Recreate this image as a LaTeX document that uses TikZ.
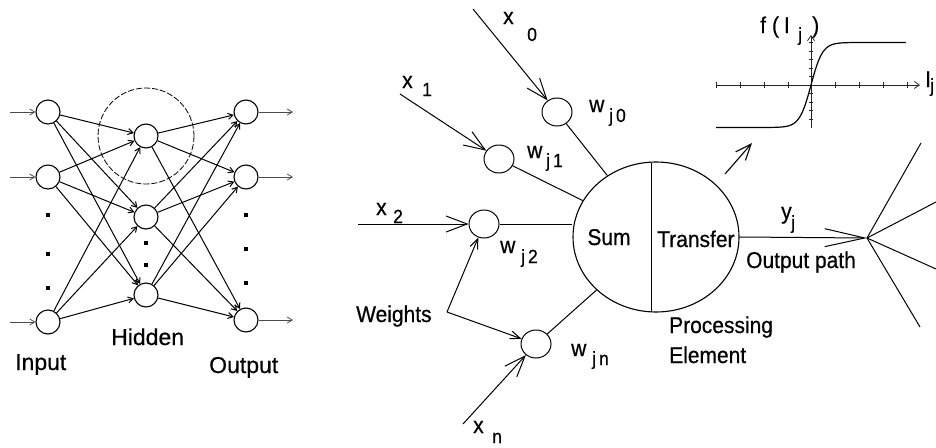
\documentclass[tikz,border=0pt]{standalone}
\usepackage{fontspec}
\setmainfont{Liberation Sans}
\newfontfamily\tallsans[FakeStretch=0.92,FakeBold=0.6]{Liberation Sans}
\newfontfamily\plainsans[FakeBold=0.6]{Liberation Sans}
\usetikzlibrary{arrows.meta,shapes.geometric,calc}
\tikzset{
  neuron/.style={circle,draw,minimum size=24pt,inner sep=0pt,line width=1.1pt},
  wnode/.style={ellipse,draw,minimum width=30pt,minimum height=28pt,inner sep=0pt,line width=1pt},
  lbl/.style={font=\tallsans\fontsize{22.8}{22.8}\selectfont,inner sep=0pt,anchor=base west},
  leftlbl/.style={font=\plainsans\fontsize{23}{23}\selectfont,inner sep=0pt,anchor=base west},
  sublbl/.style={font=\tallsans\fontsize{19}{19}\selectfont,inner sep=0pt,anchor=base west},
  dotsq/.style={rectangle,fill=black,minimum size=3.5pt,inner sep=0pt},
  netedge/.style={line width=1pt,-{Straight Barb[length=5pt,width=6pt]}},
  ioedge/.style={line width=0.8pt,black!70,-{Straight Barb[length=5pt,width=6pt]}},
  bigbarb/.style={line width=1pt,-{Straight Barb[length=21pt,width=16pt,line width=1pt]}},
  smallbarb/.style={line width=1pt,-{Straight Barb[length=10pt,width=8pt,line width=1pt]}},
  plain/.style={line width=1pt},
  axis/.style={line width=0.8pt,black!85},
}
\begin{document}
\begin{tikzpicture}[x=1pt,y=-1pt]
\useasboundingbox (0,0) rectangle (936,447);
% ---------------- left network ----------------
\node[neuron] (i1) at (48,112) {};
\node[neuron] (i2) at (48,177) {};
\node[neuron] (i3) at (48,322) {};
\node[neuron] (h1) at (146,136) {};
\node[neuron] (h2) at (146,217) {};
\node[neuron] (h3) at (146,295) {};
\node[neuron] (o1) at (246,112) {};
\node[neuron] (o2) at (246,177) {};
\node[neuron] (o3) at (246,320) {};
\draw[line width=0.8pt,dash pattern=on 6pt off 2pt] (h1) circle[radius=48];
\foreach \a in {i1,i2,i3}{\foreach \b in {h1,h2,h3}{\draw[netedge] (\a) -- (\b);}}
\foreach \a in {h1,h2,h3}{\foreach \b in {o1,o2,o3}{\draw[netedge] (\a) -- (\b);}}
\coordinate (ia1) at (10,112);
\coordinate (ia2) at (10,177);
\coordinate (ia3) at (10,322);
\coordinate (oa1) at (293,112);
\coordinate (oa2) at (293,177);
\coordinate (oa3) at (293,320);
\draw[ioedge] (ia1) -- (i1);
\draw[ioedge] (ia2) -- (i2);
\draw[ioedge] (ia3) -- (i3);
\draw[ioedge] (o1) -- (oa1);
\draw[ioedge] (o2) -- (oa2);
\draw[ioedge] (o3) -- (oa3);
\node[dotsq] (di1) at (48,215) {};
\node[dotsq] (di2) at (48,254) {};
\node[dotsq] (di3) at (48,288) {};
\node[dotsq] (dh1) at (146,243) {};
\node[dotsq] (dh2) at (146,265) {};
\node[dotsq] (do1) at (246,215) {};
\node[dotsq] (do2) at (246,249) {};
\node[dotsq] (do3) at (246,283) {};
\node[leftlbl] (thid) at (111,345) {Hidden};
\node[leftlbl] (tin) at (15,370) {Input};
\node[leftlbl] (tout) at (209,373) {Output};
% ---------------- processing element ----------------
\node[ellipse,draw,minimum width=166pt,minimum height=150pt,inner sep=0pt,line width=1.1pt] (pe) at (656,237) {};
\coordinate (dtop) at (651,162.5);
\coordinate (dbot) at (651,311.5);
\draw[line width=0.9pt] (dtop) -- (dbot);
\node[wnode] (wj0) at (557,112) {};
\node[wnode] (wj1) at (499,159) {};
\node[wnode] (wj2) at (484,224) {};
\node[wnode] (wjn) at (536,344) {};
\coordinate (sx0) at (473,9);
\coordinate (sx1) at (400,94);
\coordinate (sx2) at (358,224);
\coordinate (sxn) at (463,424);
\coordinate (wc) at (447,312);
\draw[bigbarb] (sx0) -- (wj0);
\draw[bigbarb] (sx1) -- (wj1);
\draw[bigbarb] (sx2) -- (wj2);
\draw[bigbarb] (sxn) -- (wjn);
\draw[smallbarb] (wc) -- (wj2);
\draw[smallbarb] (wc) -- (wjn);
\draw[plain] (wj0) -- (pe);
\draw[plain] (wj1) -- (pe);
\draw[plain] (wj2) -- (wj2 -| pe.west);
\draw[plain] (wjn) -- (pe);
% labels
\node[lbl] (x0m) at (503,24) {x};
\node[sublbl] (x0s) at (527,41) {0};
\node[lbl] (x1m) at (402,88) {x};
\node[sublbl] (x1s) at (422,96) {1};
\node[lbl] (x2m) at (376,215) {x};
\node[sublbl] (x2s) at (393,223) {2};
\node[lbl] (xnm) at (473,433) {x};
\node[sublbl] (xns) at (492,443) {n};
\node[lbl] (w0m) at (589,112) {w};
\node[sublbl] (w0s) at (609,122) {j\kern3pt 0};
\node[lbl] (w1m) at (527,158) {w};
\node[sublbl] (w1s) at (546,167) {j\kern3pt 1};
\node[lbl] (w2m) at (500,253) {w};
\node[sublbl] (w2s) at (521,263) {j\kern3pt 2};
\node[lbl] (wnm) at (571,356) {w};
\node[sublbl] (wns) at (592,365) {j\kern3pt n};
\node[lbl] (tw) at (356,322) {Weights};
\node[lbl,anchor=base] (tsum) at (609,245) {Sum};
\node[lbl] (ttr) at (657,247) {Transfer};
\node[lbl] (tpr) at (669,333) {Processing};
\node[lbl] (tel) at (669,363) {Element};
\node[lbl] (tyj) at (781,219) {y};
\node[sublbl] (tyjs) at (791,229) {j};
\node[lbl] (top) at (746,268) {Output path};
% output path and fan
\coordinate (hub) at (867,238);
\coordinate (f1) at (921,143);
\coordinate (f2) at (936,202);
\coordinate (f3) at (936,269);
\coordinate (f4) at (920,327);
\draw[line width=1pt,-{Straight Barb[length=40pt,width=18pt,line width=1pt]}] (pe.east) -- (hub);
\draw[plain] (hub) -- (f1);
\draw[plain] (hub) -- (f2);
\draw[plain] (hub) -- (f3);
\draw[plain] (hub) -- (f4);
% transfer function graph
\coordinate (ax0) at (716,85);
\coordinate (ax1) at (920,85);
\coordinate (ay0) at (811,128);
\coordinate (ay1) at (811,35);
\draw[axis,-{Straight Barb[length=5pt,width=7pt]}] (ax0) -- (ax1);
\draw[axis,-{Straight Barb[length=5pt,width=7pt]}] (ay0) -- (ay1);
\foreach \t in {716,740,764,788,835,859,883,907}{\draw[axis] (\t,82) -- (\t,88);}
\foreach \k in {-5,...,-1,1,2,3,4}{\draw[axis] (809,85+8.5*\k) -- (813,85+8.5*\k);}
\draw[line width=1.2pt] plot[domain=716:906,samples=120] (\x,{85-42.5*tanh((\x-811)/11.5)});
\node[lbl] (fm) at (760,33) {f\kern6pt(\kern5pt I};
\node[sublbl] (fs) at (798,41) {j};
\node[lbl] (fc) at (812,33) {)};
\node[lbl] (ijm) at (925,87) {I};
\node[sublbl] (ijs) at (930,92) {j};
\coordinate (ga0) at (725,174);
\coordinate (ga1) at (752,143);
\draw[line width=1.1pt,-{Straight Barb[length=16pt,width=13pt,line width=1.1pt]}] (ga0) -- (ga1);
\end{tikzpicture}
\end{document}
